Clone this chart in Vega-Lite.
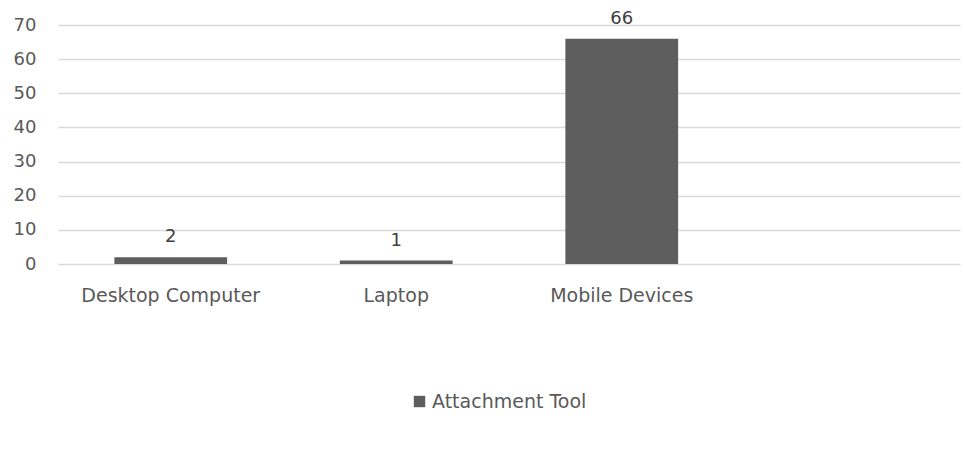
{
  "$schema": "https://vega.github.io/schema/vega-lite/v6.json",
  "width": 902,
  "height": 239,
  "autosize": {"type": "none"},
  "padding": {"left": 58, "top": 25, "right": 5, "bottom": 188},
  "background": "white",
  "config": {
    "view": {"stroke": null},
    "font": "DejaVu Sans",
    "axis": {"labelFont": "DejaVu Sans", "labelColor": "#595959", "labelFontSize": 18}
  },
  "data": {
    "values": [
      {"device": "Desktop Computer", "count": 2, "series": "Attachment Tool"},
      {"device": "Laptop", "count": 1, "series": "Attachment Tool"},
      {"device": "Mobile Devices", "count": 66, "series": "Attachment Tool"}
    ]
  },
  "encoding": {
    "x": {
      "field": "device",
      "type": "nominal",
      "sort": null,
      "scale": {"domain": ["Desktop Computer", "Laptop", "Mobile Devices", " "], "paddingInner": 0.5, "paddingOuter": 0.25},
      "axis": {"title": null, "labelAngle": 0, "domain": false, "ticks": false, "tickSize": 0, "labelPadding": 22, "grid": false, "labelFontSize": 19}
    },
    "y": {
      "field": "count",
      "type": "quantitative",
      "scale": {"domain": [0, 70], "nice": false},
      "axis": {"title": null, "values": [0, 10, 20, 30, 40, 50, 60, 70], "domain": false, "ticks": false, "tickSize": 0, "labelPadding": 22, "gridColor": "#d9d9d9", "gridWidth": 1.5}
    }
  },
  "layer": [
    {
      "mark": {"type": "bar"},
      "encoding": {
        "color": {
          "field": "series",
          "type": "nominal",
          "scale": {"range": ["#5e5e5e"]},
          "legend": {
            "title": null,
            "orient": "none",
            "legendX": 352,
            "legendY": 367,
            "symbolType": "square",
            "symbolSize": 130,
            "labelFontSize": 19,
            "labelFont": "DejaVu Sans",
            "labelColor": "#595959",
            "labelOffset": 3
          }
        }
      }
    },
    {
      "mark": {"type": "text", "baseline": "bottom", "dy": -11, "fontSize": 18, "color": "#404040", "font": "DejaVu Sans"},
      "encoding": {"text": {"field": "count", "type": "quantitative"}}
    }
  ]
}
